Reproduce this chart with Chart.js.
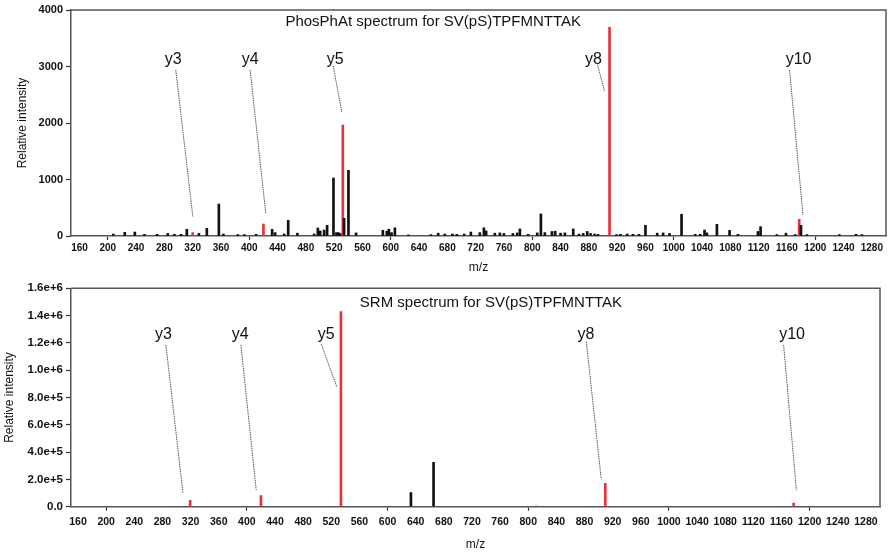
<!DOCTYPE html>
<html><head><meta charset="utf-8">
<script src="https://cdn.jsdelivr.net/npm/chart.js@4.4.1/dist/chart.umd.min.js"></script>
<style>
html,body{margin:0;padding:0;background:#fff;overflow:hidden}
#wrap{position:relative;width:892px;height:555px;background:#fff}
canvas{position:absolute;left:0}
#c1{top:0;width:892px;height:277px}
#c2{top:277px;width:892px;height:278px}
</style></head><body>
<div id="wrap"><canvas id="c1" width="892" height="277"></canvas><canvas id="c2" width="892" height="278"></canvas></div>
<script>
// ---------- DATA ----------
const xTickLabels = [160,200,240,280,320,360,400,440,480,520,560,600,640,680,720,760,800,840,880,920,960,1000,1040,1080,1120,1160,1200,1240,1280];
const topYTicks = [0,1000,2000,3000,4000];
const bottomYTicks = [0,200000,400000,600000,800000,1000000,1200000,1400000,1600000];

// PhosPhAt spectrum (top) - unassigned peaks (black)
const topBlackMz  = [207.9,224,238.2,251.8,269.7,284.8,294.2,303.6,311.7,328.7,340,357,363.4,383.8,393.2,409.7,432.3,436.5,449.3,455,468,491.7,496.9,500.2,505.8,510,519,523.2,526,528.4,534,540.2,551,588.8,594.4,597.3,601,605.8,625,656.7,667,676.4,687.2,693.4,703.7,713.2,725.9,731.6,734.8,747.1,754.2,759.9,772.6,778.7,782.5,794.2,807,812.2,817.8,827.8,832.4,840,846.1,857.9,866,872,877.7,882.4,888,892.8,919.1,924.7,934.2,942.3,950.7,960,976.6,985,994,1011,1030.3,1037.4,1043.5,1046.9,1061,1078.9,1090.7,1119,1122.7,1145.8,1158.6,1171.7,1179.8,1188.2,1234,1257.6,1266];
const topBlackInt = [35,65,70,30,30,45,30,30,118,45,136,566,35,25,25,30,118,60,35,277,50,35,142,90,105,189,1027,60,60,45,313,1162,55,100,85,120,60,145,20,25,50,35,35,30,35,70,60,145,90,50,55,45,45,55,125,30,55,390,60,80,85,50,55,125,35,45,80,45,35,30,25,30,35,30,30,189,50,55,45,385,30,30,105,55,207,100,30,80,165,25,50,25,189,25,25,30,25];
// PhosPhAt spectrum (top) - y ions (red)
const topRedMz  = [320,420,532.2,909.2,1177.3];
const topRedInt = [60,212,1965,3694,295];

// SRM spectrum (bottom)
const botBlackMz  = [633.2,665.4];
const botBlackInt = [103000,325000];
const botRedMz  = [319.4,420,533.7,812,909.5,1177.3];
const botRedInt = [46000,81000,1430000,5000,171000,27000];

// Ion annotations (label and leader line, in m/z / intensity units)
const ionLabels = ['y3','y4','y5','y8','y10'];
const topLabelMz  = [292.3,401.2,521.4,886.5,1176.4];
const topLabelInt = [3115,3115,3115,3115,3115];
const topLineFromMz  = [296.1,401.2,518.6,892.2,1163.7];
const topLineFromInt = [2938,2938,3009,3027,2938];
const topLineToMz    = [320.2,423.4,530.8,902.1,1182.6];
const topLineToInt   = [342,389,2195,2572,372];

const botLabelMz  = [281.5,390.5,512.8,882.1,1175];
const botLabelInt = [1258000,1258000,1258000,1258000,1258000];
const botLineFromMz  = [284.9,391.5,505.7,882.5,1163];
const botLineFromInt = [1185000,1185000,1192000,1209000,1185000];
const botLineToMz    = [309.1,413.3,528,903.8,1181.1];
const botLineToInt   = [103000,122000,875000,200000,122000];

const topTitle = 'PhosPhAt spectrum for SV(pS)TPFMNTTAK';
const botTitle = 'SRM spectrum for SV(pS)TPFMNTTAK';

// ---------- RENDERING ----------
const F = '"Liberation Sans", Arial, Helvetica, sans-serif';
const RED = '#e8323c';
const INK = '#111';

const decor = {
  id: 'decor',
  afterDatasetsDraw(chart, args, o) {
    const {ctx, chartArea: a, scales: {x, y}} = chart;
    ctx.save();
    // frame (top & right)
    ctx.strokeStyle = '#555';
    ctx.lineWidth = 1.5;
    ctx.beginPath();
    ctx.moveTo(a.left, a.top);
    ctx.lineTo(a.right, a.top);
    ctx.lineTo(a.right, a.bottom);
    ctx.stroke();
    // title inside plot
    ctx.fillStyle = INK;
    ctx.textAlign = 'center';
    ctx.textBaseline = 'middle';
    ctx.font = '15px ' + F;
    ctx.fillText(o.title, x.getPixelForValue(o.titleMz), y.getPixelForValue(o.titleInt));
    // ion labels + leader lines
    ctx.font = '16px ' + F;
    ctx.strokeStyle = 'rgba(50,50,50,0.9)';
    ctx.lineWidth = 0.9;
    ctx.setLineDash([1.5, 0.8]);
    o.labels.forEach((t, i) => {
      ctx.fillText(t, x.getPixelForValue(o.lx[i]), y.getPixelForValue(o.ly[i]));
      ctx.beginPath();
      ctx.moveTo(x.getPixelForValue(o.fx[i]), y.getPixelForValue(o.fy[i]));
      ctx.lineTo(x.getPixelForValue(o.tx[i]), y.getPixelForValue(o.ty[i]));
      ctx.stroke();
    });
    ctx.restore();
  }
};

function pts(mz, v) { return mz.map((m, i) => ({x: m, y: v[i]})); }

function build(id, c) {
  return new Chart(document.getElementById(id), {
    type: 'bar',
    data: {datasets: [
      {data: pts(c.bMz, c.bInt), backgroundColor: INK, barThickness: 2, grouped: false},
      {data: pts(c.rMz, c.rInt), backgroundColor: RED, barThickness: 2, grouped: false}
    ]},
    options: {
      responsive: false,
      animation: false,
      layout: {padding: {top: c.padTop, right: c.padRight, left: 0, bottom: 0}},
      plugins: {
        legend: {display: false},
        tooltip: {enabled: false},
        decor: c.decor
      },
      scales: {
        x: {
          type: 'linear', min: c.xMin, max: c.xMax, offset: false,
          afterBuildTicks: s => { s.ticks = xTickLabels.map(v => ({value: v})); },
          afterFit: s => { s.height = c.xH; },
          ticks: {autoSkip: false, maxRotation: 0, minRotation: 0, padding: c.xPad, color: INK,
                  font: {family: F, size: c.xFs, weight: 'bold'}, callback: v => String(v)},
          grid: {drawOnChartArea: false, offset: false, tickLength: 4, tickWidth: 1.2,
                 tickColor: k => (k.tick && k.tick.value % 200 === 0) ? '#333' : 'rgba(0,0,0,0)'},
          border: {color: '#555', width: 1.5},
          title: {display: true, text: 'm/z', color: INK, font: {family: F, size: 12},
                  padding: {top: 0, bottom: c.xTitlePad}}
        },
        y: {
          min: 0, max: c.yMax,
          afterBuildTicks: s => { s.ticks = c.yTicks.map(v => ({value: v})); },
          afterFit: s => { s.width = 71; },
          ticks: {padding: 3, color: INK, font: {family: F, size: c.yFs, weight: 'bold'}, callback: c.fmt},
          grid: {drawOnChartArea: false, tickLength: 5, tickWidth: 1.2, tickColor: '#333'},
          border: {color: '#555', width: 1.5},
          title: {display: true, text: 'Relative intensity', color: INK, font: {family: F, size: 12},
                  padding: {top: c.yTitlePad, bottom: 0}}
        }
      }
    },
    plugins: [decor]
  });
}

build('c1', {
  bMz: topBlackMz, bInt: topBlackInt, rMz: topRedMz, rInt: topRedInt,
  padTop: 10, padRight: 6, xMin: 148, xMax: 1300, xH: 41, xPad: 2, xFs: 10, xTitlePad: 1.8,
  yMax: 4000, yTicks: topYTicks, yFs: 11, yTitlePad: 15.5,
  fmt: v => String(v),
  decor: {title: topTitle, titleMz: 660, titleInt: 3788, labels: ionLabels,
          lx: topLabelMz, ly: topLabelInt, fx: topLineFromMz, fy: topLineFromInt, tx: topLineToMz, ty: topLineToInt}
});

build('c2', {
  bMz: botBlackMz, bInt: botBlackInt, rMz: botRedMz, rInt: botRedInt,
  padTop: 11.3, padRight: 12, xMin: 150, xMax: 1300, xH: 48.3, xPad: 5, xFs: 10.5, xTitlePad: 2.8,
  yMax: 1600000, yTicks: bottomYTicks, yFs: 11.5, yTitlePad: 2.8,
  fmt: v => v === 0 ? '0.0' : Number(v).toExponential(1),
  decor: {title: botTitle, titleMz: 747, titleInt: 1495000, labels: ionLabels,
          lx: botLabelMz, ly: botLabelInt, fx: botLineFromMz, fy: botLineFromInt, tx: botLineToMz, ty: botLineToInt}
});
</script>
</body></html>
